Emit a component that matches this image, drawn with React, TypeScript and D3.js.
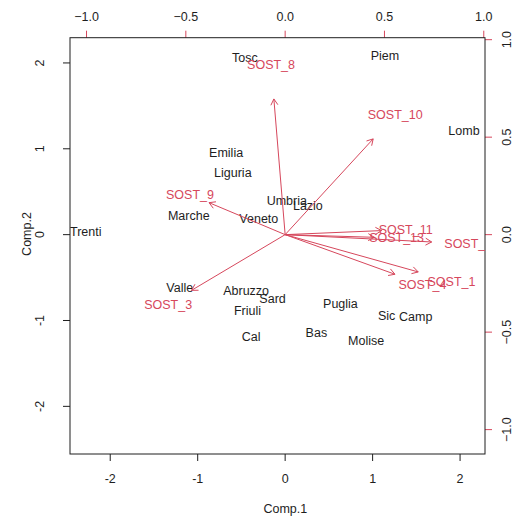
import React from "react";
import * as d3 from "d3";

// Principal component scores for each region (Comp.1, Comp.2)
const regions = [
  "Piem", "Valle", "Lomb", "Trenti", "Veneto", "Friuli", "Liguria", "Emilia", "Tosc", "Umbria",
  "Marche", "Lazio", "Abruzzo", "Molise", "Camp", "Puglia", "Bas", "Cal", "Sic", "Sard",
];
const comp1 = [
  1.141, -1.205, 2.045, -2.28, -0.301, -0.43, -0.598, -0.675, -0.461, 0.019,
  -1.102, 0.26, -0.446, 0.926, 1.493, 0.632, 0.357, -0.39, 1.16, -0.144,
];
const comp2 = [
  2.085, -0.616, 1.213, 0.038, 0.186, -0.888, 0.724, 0.96, 2.065, 0.399,
  0.224, 0.341, -0.648, -1.237, -0.958, -0.802, -1.144, -1.191, -0.938, -0.744,
];

// Variable loadings
const variables = ["SOST_1", "SOST_2", "SOST_3", "SOST_4", "SOST_8", "SOST_9", "SOST_10", "SOST_11", "SOST_13"];
const load1 = [0.8375, 0.922, -0.589, 0.691, -0.071, -0.479, 0.554, 0.607, 0.561];
const load2 = [-0.239, -0.047, -0.357, -0.254, 0.87, 0.205, 0.614, 0.026, -0.017];

const scoreTicks = [-2, -1, 0, 1, 2];
const loadTicks = [-1, -0.5, 0, 0.5, 1];

const W = 513;
const H = 518;
const box = { left: 70, right: 485, top: 37.7, bottom: 454 };
const ratio = 2.271;
const xDomain = [-2.46, 2.285];
const yDomain = [-2.555, 2.294];

const BLACK = "#1e1e1e";
const RED = "#D6475C";
const FONT = "'Liberation Sans', Arial, Helvetica, sans-serif";
const FS = 12.5;

export default function App() {
  const x = d3.scaleLinear().domain(xDomain).range([box.left, box.right]);
  const y = d3.scaleLinear().domain(yDomain).range([box.bottom, box.top]);
  const xs = d3.scaleLinear().domain([xDomain[0] / ratio, xDomain[1] / ratio]).range([box.left, box.right]);
  const ys = d3.scaleLinear().domain([yDomain[0] / ratio, yDomain[1] / ratio]).range([box.bottom, box.top]);

  const fmt = d3.format(".1f");
  const tick = 7;
  const headLen = 7;
  const headAng = Math.PI / 6;

  return (
    <svg
      width={W}
      height={H}
      style={{ position: "absolute", left: 0, top: 0, background: "#fff" }}
      fontFamily={FONT}
      fontSize={FS}
    >
      <defs>
        <clipPath id="plot-clip">
          <rect x={box.left} y={box.top} width={box.right - box.left} height={box.bottom - box.top} />
        </clipPath>
      </defs>
      <rect x={0} y={0} width={W} height={H} fill="#fff" />

      {/* bottom axis: Comp.1 scores */}
      {scoreTicks.map((t) => (
        <g key={"b" + t}>
          <line x1={x(t)} x2={x(t)} y1={box.bottom} y2={box.bottom + tick} stroke={BLACK} />
          <text x={x(t)} y={479} dy="0.35em" textAnchor="middle" fill={BLACK}>
            {t}
          </text>
        </g>
      ))}
      {/* left axis: Comp.2 scores */}
      {scoreTicks.map((t) => (
        <g key={"l" + t}>
          <line x1={box.left - tick} x2={box.left} y1={y(t)} y2={y(t)} stroke={BLACK} />
          <text
            transform={`translate(40,${y(t)}) rotate(-90)`}
            dy="0.35em"
            textAnchor="middle"
            fill={BLACK}
          >
            {t}
          </text>
        </g>
      ))}
      {/* top axis: loadings on Comp.1 */}
      {loadTicks.map((t) => (
        <g key={"t" + t}>
          <line x1={xs(t)} x2={xs(t)} y1={box.top} y2={box.top - tick} stroke={RED} />
          <text x={xs(t)} y={16.7} dy="0.35em" textAnchor="middle" fill={BLACK}>
            {fmt(t)}
          </text>
        </g>
      ))}
      {/* right axis: loadings on Comp.2 */}
      {loadTicks.map((t) => (
        <g key={"r" + t}>
          <line x1={box.right} x2={box.right + tick} y1={ys(t)} y2={ys(t)} stroke={RED} />
          <text
            transform={`translate(506.5,${ys(t)}) rotate(-90)`}
            dy="0.35em"
            textAnchor="middle"
            fill={BLACK}
          >
            {fmt(t)}
          </text>
        </g>
      ))}

      <rect
        x={box.left}
        y={box.top}
        width={box.right - box.left}
        height={box.bottom - box.top}
        fill="none"
        stroke={BLACK}
      />

      <text x={285.3} y={509} dy="0.35em" textAnchor="middle" fill={BLACK}>
        Comp.1
      </text>
      <text transform="translate(26.7,234) rotate(-90)" dy="0.35em" textAnchor="middle" fill={BLACK}>
        Comp.2
      </text>

      <g clipPath="url(#plot-clip)">
        {/* region labels at their scores */}
        {regions.map((name, i) => (
          <text key={name} x={x(comp1[i])} y={y(comp2[i])} dy="0.35em" textAnchor="middle" fill={BLACK}>
            {name}
          </text>
        ))}
        {/* variable labels at full loadings */}
        {variables.map((name, i) => (
          <text key={name} x={xs(load1[i])} y={ys(load2[i])} dy="0.35em" textAnchor="middle" fill={RED}>
            {name}
          </text>
        ))}
        {/* arrows to 0.8 of each loading */}
        {variables.map((name, i) => {
          const x0 = xs(0);
          const y0 = ys(0);
          const x1 = xs(load1[i] * 0.8);
          const y1 = ys(load2[i] * 0.8);
          const a = Math.atan2(y1 - y0, x1 - x0);
          const h1x = x1 - headLen * Math.cos(a - headAng);
          const h1y = y1 - headLen * Math.sin(a - headAng);
          const h2x = x1 - headLen * Math.cos(a + headAng);
          const h2y = y1 - headLen * Math.sin(a + headAng);
          return (
            <g key={"a" + name} stroke={RED} fill="none" strokeWidth={1}>
              <line x1={x0} y1={y0} x2={x1} y2={y1} />
              <path d={`M${h1x},${h1y}L${x1},${y1}L${h2x},${h2y}`} />
            </g>
          );
        })}
      </g>
    </svg>
  );
}
